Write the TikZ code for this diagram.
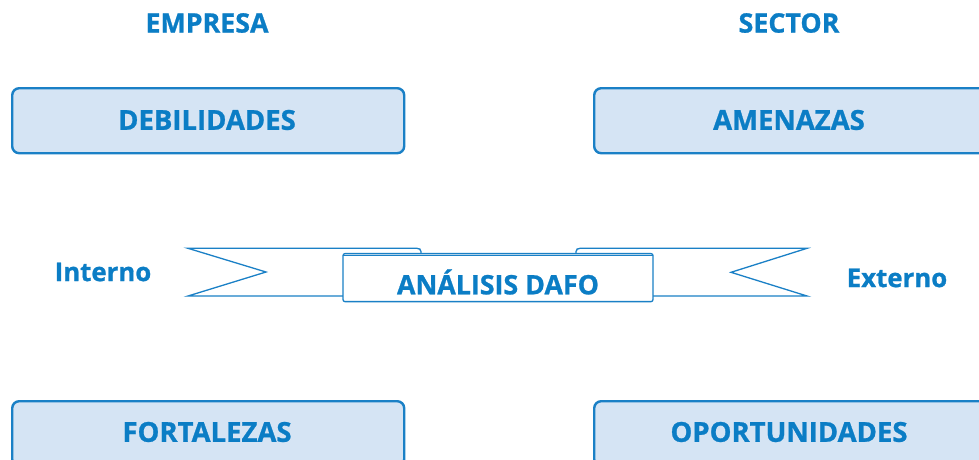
\documentclass[tikz,border=0pt]{standalone}
\usepackage{fontspec}
\setmainfont{Open Sans}[BoldFeatures={FakeBold=0.9}]
\definecolor{dblue}{HTML}{0B7DC5}
\definecolor{dfill}{HTML}{D5E4F4}
\definecolor{dline}{HTML}{1A80C6}
\begin{document}
\begin{tikzpicture}[x=1pt,y=-1pt,
  quad/.style={draw=dline, line width=2.4pt, fill=dfill, rounded corners=7pt,
    minimum width=392pt, minimum height=65pt, anchor=north west, inner sep=0pt},
  qtext/.style={font=\bfseries\fontsize{27.5}{28}\selectfont, text=dblue, inner sep=0pt},
  lab/.style={font=\bfseries\fontsize{26.8}{27}\selectfont, text=dblue, inner sep=0pt},
  side/.style={font=\bfseries\fontsize{25.8}{26}\selectfont, text=dblue, inner sep=0pt},
  ribbon/.style={draw=dline, line width=1.3pt, line join=miter}]
\clip (0,0) rectangle (979,459);
\fill[white] (0,0) rectangle (979,459);

% column headings
\node[lab] (empresa) at (207,23) {EMPRESA};
\node[lab] (sector) at (789,23) {SECTOR};

% the four quadrant boxes
\node[quad] (deb) at (11,87) {};
\node[quad] (ame) at (593,87) {};
\node[quad] (fort) at (11,400) {};
\node[quad] (opor) at (593,400) {};
\node[qtext] (tdeb) at (207,120) {DEBILIDADES};
\node[qtext] (tame) at (789,120) {AMENAZAS};
\node[qtext] (tfort) at (207,432) {FORTALEZAS};
\node[qtext] (topor) at (789,432) {OPORTUNIDADES};

% side labels
\node[side] (interno) at (103,272) {Interno};
\node[side] (externo) at (897,278) {Externo};

% ribbon: back band with swallow-tail ends
\fill[dfill] (343,248.3) rectangle (421,254);
\fill[dfill] (576,248.3) rectangle (653,254);
\draw[ribbon, fill=white] (345,296) -- (188,296) -- (266,272) -- (188,248.3)
  -- (417,248.3) to[out=0,in=90] (421,251.5) -- (421,254);
\draw[ribbon, fill=white] (651,296) -- (807,296) -- (731,272.3) -- (807,248.3)
  -- (580,248.3) to[out=180,in=90] (576,251.5) -- (576,254);

% ribbon: front panel
\node[draw=dline, line width=1.3pt, fill=white, rounded corners=2pt,
  minimum width=310pt, minimum height=48pt, inner sep=0pt] (dafo) at (498,277.6) {};
\draw[dline, line width=0.6pt] ([xshift=1pt,yshift=-2pt]dafo.north west) -- ([xshift=-1pt,yshift=-2pt]dafo.north east);
\node[lab] (tdafo) at (498,282) {ANÁLISIS DAFO};
\end{tikzpicture}
\end{document}
